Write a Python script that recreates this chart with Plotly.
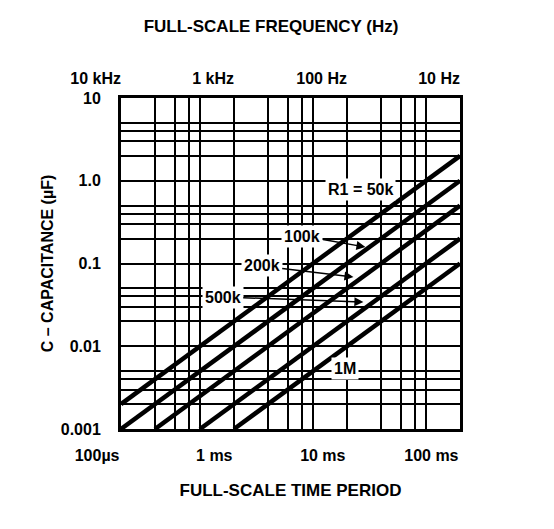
import plotly.graph_objects as go

# ---- data ----
series_names = ["R1 = 50k", "100k", "200k", "500k", "1M"]
t_start_s = [1e-4, 1e-4, 2e-4, 5e-4, 1e-3]      # full-scale period at line start (s)
c_start_uF = [0.002, 0.001, 0.001, 0.001, 0.001]  # capacitance at line start (uF)
t_end_s = [0.1, 0.1, 0.1, 0.1, 0.1]
c_end_uF = [2.0, 1.0, 0.5, 0.2, 0.1]

period_tick_vals = [1e-4, 1e-3, 1e-2, 1e-1]
period_tick_text = ["100\u00b5s", "1 ms", "10 ms", "100 ms"]
freq_tick_vals = [1e4, 1e3, 1e2, 1e1]
freq_tick_text = ["10 kHz", "1 kHz", "100 Hz", "10 Hz"]
cap_tick_vals = [0.001, 0.01, 0.1, 1, 10]
cap_tick_text = ["0.001", "0.01", "0.1", "1.0", "10"]
grid_multipliers = [2, 3, 4, 5]

x_minor = [m * d for d in [1e-4, 1e-3, 1e-2] for m in grid_multipliers]
y_minor = [m * d for d in [1e-3, 1e-2, 1e-1, 1] for m in grid_multipliers]

FONT = "Liberation Sans, Arial, Helvetica, sans-serif"

fig = go.Figure()
for name, t0, c0, t1, c1 in zip(series_names, t_start_s, c_start_uF, t_end_s, c_end_uF):
    fig.add_trace(go.Scatter(x=[t0, t1], y=[c0, c1], mode="lines", name=name,
                             line=dict(color="black", width=4.5), showlegend=False,
                             hoverinfo="skip"))
# invisible trace to carry the top frequency axis
fig.add_trace(go.Scatter(x=[1e4, 10], y=[0.001, 0.001], xaxis="x2", mode="markers",
                         marker=dict(opacity=0), showlegend=False, hoverinfo="skip"))

axis_common = dict(showline=True, linecolor="black", linewidth=3, mirror=True,
                   showgrid=True, gridcolor="black", gridwidth=2, ticks="",
                   zeroline=False)

fig.update_layout(
    width=554, height=529,
    margin=dict(l=121, r=94, t=98, b=100),
    paper_bgcolor="white", plot_bgcolor="white",
    font=dict(family=FONT, size=16, color="black", weight=700),
    title=dict(text="FULL-SCALE FREQUENCY (Hz)", x=271 / 554, xanchor="center",
               xref="container", y=1 - 26 / 529, yanchor="middle", yref="container",
               font=dict(size=17)),
    xaxis=dict(type="log", range=[-4, -1], tickmode="array",
               tickvals=period_tick_vals, ticktext=period_tick_text,
               ticklabelposition="outside left", ticklabelstandoff=10,
               tickfont=dict(size=16),
               minor=dict(tickmode="array", tickvals=x_minor, showgrid=True,
                          gridcolor="black", gridwidth=2, ticks=""),
               title=dict(text="FULL-SCALE TIME PERIOD", standoff=21,
                          font=dict(size=17)),
               **axis_common),
    xaxis2=dict(type="log", range=[4, 1], overlaying="x", side="top",
                tickmode="array", tickvals=freq_tick_vals, ticktext=freq_tick_text,
                ticklabelposition="outside left", ticklabelstandoff=10,
                tickfont=dict(size=16), showgrid=False, showline=False,
                ticks="", zeroline=False),
    yaxis=dict(type="log", range=[-3, 1], tickmode="array",
               tickvals=cap_tick_vals, ticktext=cap_tick_text,
               ticklabelstandoff=14, tickfont=dict(size=16),
               minor=dict(tickmode="array", tickvals=y_minor, showgrid=True,
                          gridcolor="black", gridwidth=2, ticks=""),
               title=dict(text="C \u2013 CAPACITANCE (\u00b5F)", standoff=4,
                          font=dict(size=16)),
               **axis_common),
)

lbl_font = dict(family=FONT, size=16, color="black", weight=700)
# labels without arrows
fig.add_annotation(x=-1.882, y=-0.100, text="R1 = 50k", showarrow=False,
                   bgcolor="white", borderpad=2, font=lbl_font)
fig.add_annotation(x=-2.014, y=-2.263, text="1M", showarrow=False,
                   bgcolor="white", borderpad=2, font=lbl_font)
# labels with arrows (head at x,y; text at ax,ay)
arrow_labels = [
    ("100k", (-1.837, -0.801), (-2.394, -0.668)),
    ("200k", (-1.943, -1.163), (-2.755, -1.030)),
    ("500k", (-1.855, -1.465), (-3.100, -1.405)),
]
for txt, (hx, hy), (tx, ty) in arrow_labels:
    fig.add_annotation(x=hx, y=hy, ax=tx, ay=ty, axref="x", ayref="y",
                       text=txt, showarrow=True, arrowhead=2, arrowsize=1.2,
                       arrowwidth=1.5, arrowcolor="black", bgcolor="white",
                       borderpad=2, font=lbl_font)

fig.write_html("out.html")
